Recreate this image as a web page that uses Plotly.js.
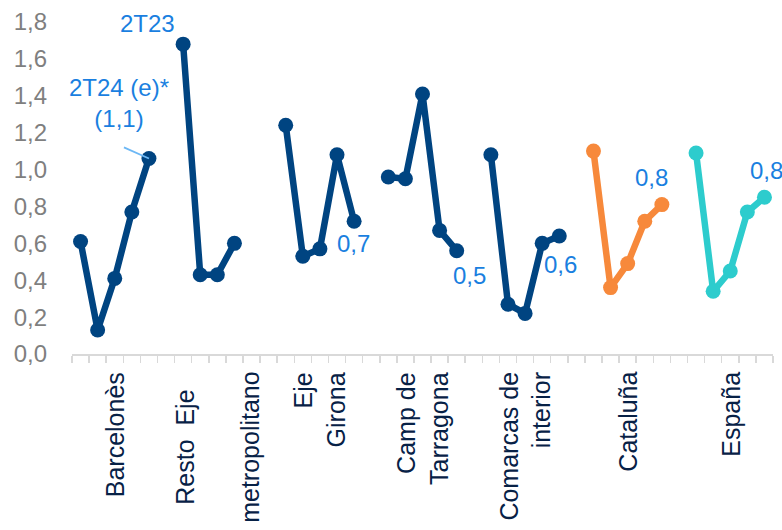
<!DOCTYPE html>
<html>
<head>
<meta charset="utf-8">
<script src="https://cdn.plot.ly/plotly-3.0.1.min.js"></script>
<style>html,body{margin:0;padding:0;background:#fff;}#chart{width:782px;height:530px;}</style>
</head>
<body>
<div id="chart"></div>
<script>
// ---- data ----
var quarters = ["2T23", "3T23", "4T23", "1T24", "2T24"];
var regions = ["Barcelonès", "Resto Eje metropolitano", "Eje Girona", "Camp de Tarragona", "Comarcas de interior", "Cataluña", "España"];
var regionLabels = ["Barcelonès", "Resto  Eje<br><br>metropolitano", "Eje<br>Girona", "Camp de<br>Tarragona", "Comarcas de<br>interior", "Cataluña", "España"];
var barcelones   = [0.61, 0.13, 0.41, 0.77, 1.06];
var restoEje     = [1.68, 0.43, 0.43, 0.60, null];
var ejeGirona    = [1.24, 0.53, 0.57, 1.08, 0.72];
var campTarragona= [0.96, 0.95, 1.41, 0.67, 0.56];
var comarcas     = [1.08, 0.27, 0.22, 0.60, 0.64];
var cataluna     = [1.10, 0.36, 0.49, 0.72, 0.81];
var espana       = [1.09, 0.34, 0.45, 0.77, 0.85];
var seriesValues = [barcelones, restoEje, ejeGirona, campTarragona, comarcas, cataluna, espana];
var endLabels = ["2T24 (e)*<br>(1,1)", null, "0,7", "0,5", "0,6", "0,8", "0,8"];

// ---- styling ----
var NAVY = "#004481", ORANGE = "#F7893B", TEAL = "#2DCCCD";
var colors = [NAVY, NAVY, NAVY, NAVY, NAVY, ORANGE, TEAL];
var LBL = "#1A7FE0";
var FONT = "Arial, 'Liberation Sans', sans-serif";
var slot = quarters.length + 1;

var traces = seriesValues.map(function (vals, g) {
  return {
    type: "scatter", mode: "lines+markers",
    name: regions[g],
    x: vals.map(function (v, q) { return g * slot + q; }),
    y: vals,
    text: quarters,
    line: { color: colors[g], width: 6.5 },
    marker: { color: colors[g], size: 15 },
    connectgaps: false, showlegend: false, cliponaxis: false
  };
});

var nSlots = seriesValues.length * slot - 1;
var boundaries = [];
for (var i = 0; i <= nSlots; i++) boundaries.push(i - 0.5);

var annotations = [];
// category labels
regionLabels.forEach(function (lab, g) {
  annotations.push({
    xref: "x", yref: "paper", x: g * slot + 2, y: 0,
    text: lab, textangle: -90, showarrow: false,
    xanchor: "center", yanchor: "top", yshift: -16,
    align: g === 1 ? "center" : "right",
    font: { family: FONT, size: 25, color: "#072146" }
  });
});
// value labels (offsets in px relative to the labelled point)
var offs = [[-30, 55], null, [-1, -22], [13, -25], [1, -29], [-10, 27], [2, 27]];
endLabels.forEach(function (lab, g) {
  if (!lab) return;
  var q = quarters.length - 1;
  annotations.push({
    xref: "x", yref: "y", x: g * slot + q, y: seriesValues[g][q],
    text: lab, showarrow: false, xshift: offs[g][0], yshift: offs[g][1],
    font: { family: FONT, size: 24, color: LBL }
  });
});
// leader line for Barcelonès 2T24
annotations.push({
  xref: "x", yref: "y", x: 4, y: barcelones[4], text: " ",
  showarrow: true, arrowhead: 0, arrowwidth: 1.8, arrowcolor: "#6DB8F5",
  ax: -27, ay: -12, standoff: 0, font: { size: 2 }
});
// 2T23 label on Resto Eje peak
annotations.push({
  xref: "x", yref: "y", x: slot, y: restoEje[0],
  text: quarters[0], showarrow: false, xshift: -36, yshift: 21,
  font: { family: FONT, size: 24, color: LBL }
});

var layout = {
  width: 782, height: 530,
  margin: { l: 72, r: 9, t: 22, b: 176 },
  paper_bgcolor: "#fff", plot_bgcolor: "#fff",
  separators: ",.",
  font: { family: FONT },
  xaxis: {
    range: [-0.5, nSlots - 0.5],
    tickmode: "array", tickvals: boundaries, ticktext: boundaries.map(function () { return ""; }),
    ticks: "outside", ticklen: 7, tickwidth: 1.5, tickcolor: "#D9D9D9",
    showline: true, linecolor: "#D9D9D9", linewidth: 2,
    showgrid: false, zeroline: false, showticklabels: false, fixedrange: true
  },
  yaxis: {
    range: [0, 1.8], dtick: 0.2, tick0: 0, tickformat: ".1f",
    showgrid: false, zeroline: false, showline: false, ticks: "",
    ticklabelstandoff: 24,
    tickfont: { family: FONT, size: 24, color: "#7F7F7F" }, fixedrange: true
  },
  annotations: annotations
};

Plotly.newPlot("chart", traces, layout, { staticPlot: true, displayModeBar: false });
</script>
</body>
</html>
